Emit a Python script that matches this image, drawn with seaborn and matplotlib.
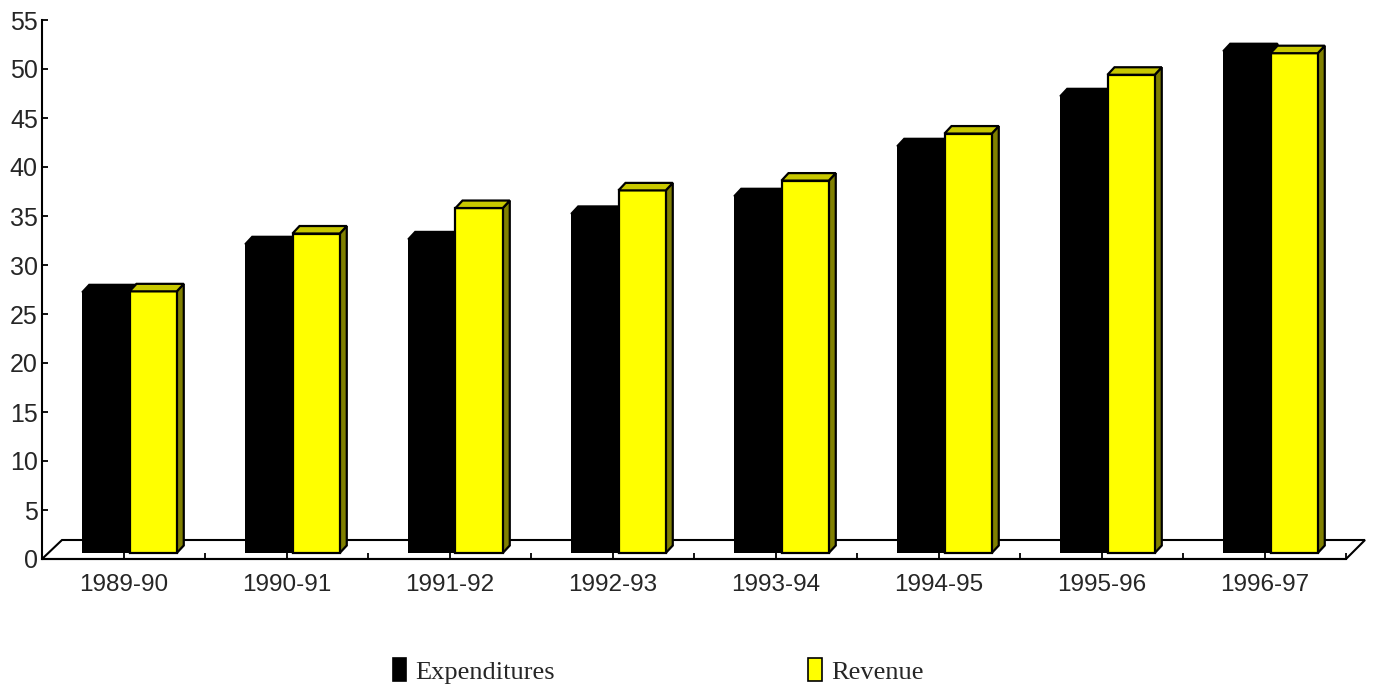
"""
Expenditures vs Revenue, 3D-style column chart (1989-90 .. 1996-97)
"""

import numpy as np
import pandas as pd
import matplotlib
matplotlib.use("Agg")
import matplotlib.pyplot as plt
from matplotlib.patches import Polygon, Patch
from matplotlib.ticker import FixedLocator
import seaborn as sns

# Values
years = ['1989-90', '1990-91', '1991-92', '1992-93',
         '1993-94', '1994-95', '1995-96', '1996-97']
expenditures = [26.6, 31.5, 32.0, 34.6, 36.4, 41.5, 46.6, 51.2]
revenue = [26.7, 32.6, 35.2, 37.0, 38.0, 42.8, 48.8, 51.0]
series_names = ['Expenditures', 'Revenue']
y_ticks = list(range(0, 56, 5))

front_colors = {'Expenditures': 'black', 'Revenue': '#FFFF00'}
top_colors = {'Expenditures': 'black', 'Revenue': '#C8C800'}
side_colors = {'Expenditures': 'black', 'Revenue': '#808000'}

df = pd.DataFrame({
    'year': years * 2,
    'value': expenditures + revenue,
    'series': [series_names[0]] * len(years) + [series_names[1]] * len(years),
})

sns.set_style("ticks")
plt.rcParams['font.family'] = ['Liberation Sans', 'DejaVu Sans']

W, H = 1374, 692
fig = plt.figure(figsize=(W / 100, H / 100), dpi=100)
ax_left, ax_right = 42, 1346
ax_top, ax_bot = 20, 559
ax = fig.add_axes([ax_left / W, (H - ax_bot) / H,
                   (ax_right - ax_left) / W, (ax_bot - ax_top) / H])

sns.barplot(data=df, x='year', y='value', hue='series',
            palette=[front_colors[s] for s in series_names],
            saturation=1, width=0.58, errorbar=None, legend=False,
            edgecolor='black', linewidth=1.6, ax=ax)

ax.set_xlim(-0.5, len(years) - 0.5)
ax.set_ylim(0, 55)

# data units per pixel
sx = len(years) / (ax_right - ax_left)
sy = 55 / (ax_bot - ax_top)

# bars sit a bit behind the front edge of the floor
ox, oy = 6 * sx, 6 * sy
dx, dy = 7 * sx, 7.5 * sy

n = len(years)
for i, patch in enumerate(ax.patches):
    s = series_names[i // n]
    x0 = patch.get_x() + ox
    w = patch.get_width()
    h = patch.get_height()
    patch.set_x(x0)
    patch.set_y(oy)
    x1 = x0 + w
    top = oy + h
    z = 2 if s == 'Expenditures' else 3
    patch.set_zorder(z)
    if s == 'Expenditures':
        patch.set_linewidth(0)
    side = Polygon([(x1, oy), (x1 + dx, oy + dy), (x1 + dx, top + dy), (x1, top)],
                   closed=True, facecolor=side_colors[s], edgecolor='black',
                   linewidth=1.6, zorder=z - 0.5, clip_on=False)
    lid = Polygon([(x0, top), (x1, top), (x1 + dx, top + dy), (x0 + dx, top + dy)],
                  closed=True, facecolor=top_colors[s], edgecolor='black',
                  linewidth=1.6, zorder=z, clip_on=False)
    ax.add_patch(side)
    ax.add_patch(lid)
    patch.set_clip_on(False)

# floor outline
floor = Polygon([(-0.5, 0), (n - 0.5, 0), (n - 0.5 + 19 * sx, 19 * sy),
                 (-0.5 + 20 * sx, 19 * sy)],
                closed=True, facecolor='none', edgecolor='black',
                linewidth=1.5, zorder=0.5, clip_on=False)
ax.add_patch(floor)

# axes and ticks
ax.set_yticks(y_ticks)
ax.set_yticklabels([str(t) for t in y_ticks])
ax.set_xticks(range(n))
ax.set_xticklabels(years)
ax.xaxis.set_minor_locator(FixedLocator(np.arange(-0.5, n, 1.0)))
ax.tick_params(axis='x', which='both', direction='in', length=4.5,
               width=1.3, color='black')
ax.tick_params(axis='x', which='major', labelsize=17.5, pad=11)
ax.tick_params(axis='y', direction='in', length=4.5, width=1.3,
               labelsize=18, pad=3, color='black')
ax.set_xlabel('')
ax.set_ylabel('')
sns.despine(ax=ax)
for sp in ['left', 'bottom']:
    ax.spines[sp].set_linewidth(1.5)
    ax.spines[sp].set_color('black')
ax.set_facecolor('white')

handles = [Patch(facecolor=front_colors[s], edgecolor='black', linewidth=1.2)
           for s in series_names]
fig.legend(handles=handles, labels=series_names, loc='center left',
           bbox_to_anchor=(393 / W, (H - 671) / H), ncol=2, frameon=False,
           prop={'family': 'Liberation Serif', 'size': 19},
           handlelength=0.5, handleheight=0.95, handletextpad=0.35,
           columnspacing=9.6, borderpad=0, borderaxespad=0)

fig.savefig('out.png', dpi=100, facecolor='white')
